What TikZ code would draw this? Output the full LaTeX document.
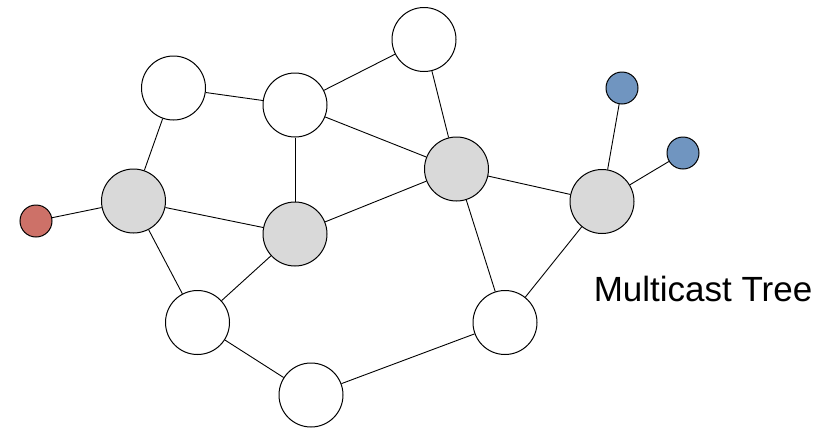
\documentclass[tikz,border=0pt]{standalone}
\usepackage{fontspec}
\setmainfont{Liberation Sans}
\definecolor{redn}{HTML}{CD7168}
\definecolor{bluen}{HTML}{7095C0}
\definecolor{grayn}{HTML}{D9D9D9}
\begin{document}
\begin{tikzpicture}[x=1pt,y=-1pt,
  big/.style={circle,draw=black,line width=1pt,minimum size=64pt,inner sep=0pt},
  whitenode/.style={big,fill=white},
  graynode/.style={big,fill=grayn},
  small/.style={circle,draw=black,line width=1pt,minimum size=32pt,inner sep=0pt},
  rednode/.style={small,fill=redn},
  bluenode/.style={small,fill=bluen},
  edge/.style={line width=0.9pt}]
\useasboundingbox (0,0) rectangle (831,429);
\node[rednode] (r) at (36,221) {};
\node[graynode] (ga) at (133.5,201) {};
\node[whitenode] (tl) at (173.5,88) {};
\node[whitenode] (tm) at (295,105) {};
\node[whitenode] (t) at (424,39.5) {};
\node[graynode] (gc) at (456.5,169) {};
\node[graynode] (gm) at (295,234) {};
\node[graynode] (gr) at (602,201.5) {};
\node[bluenode] (b1) at (622,88) {};
\node[bluenode] (b2) at (683,153) {};
\node[whitenode] (bl) at (197.5,322.5) {};
\node[whitenode] (b) at (311,395) {};
\node[whitenode] (br) at (505,322.5) {};
\node[anchor=base,inner sep=0pt,font=\fontsize{35}{42}\selectfont] (lbl) at (703,301.7) {Multicast Tree};
\draw[edge] (r) -- (ga);
\draw[edge] (ga) -- (tl);
\draw[edge] (tl) -- (tm);
\draw[edge] (tm) -- (t);
\draw[edge] (t) -- (gc);
\draw[edge] (tm) -- (gc);
\draw[edge] (tm) -- (gm);
\draw[edge] (ga) -- (gm);
\draw[edge] (gm) -- (gc);
\draw[edge] (gc) -- (gr);
\draw[edge] (gr) -- (b1);
\draw[edge] (gr) -- (b2);
\draw[edge] (ga) -- (bl);
\draw[edge] (gm) -- (bl);
\draw[edge] (bl) -- (b);
\draw[edge] (b) -- (br);
\draw[edge] (gc) -- (br);
\draw[edge] (br) -- (gr);
\end{tikzpicture}
\end{document}
